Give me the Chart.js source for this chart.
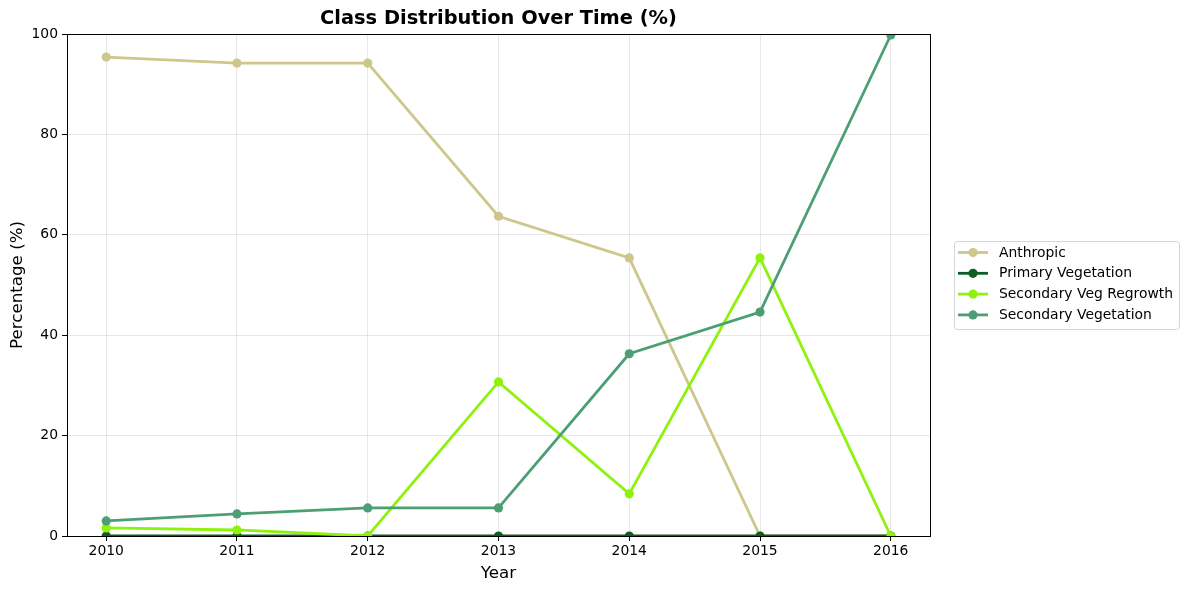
<!DOCTYPE html>
<html>
<head>
<meta charset="utf-8">
<script src="https://cdn.jsdelivr.net/npm/chart.js@4"></script>
<style>
  html, body { margin: 0; padding: 0; background: #fff; }
  #wrap { width: 1188px; height: 590px; }
</style>
</head>
<body>
<div id="wrap"><canvas id="chart" width="1188" height="590"></canvas></div>
<script>
const years = [2010, 2011, 2012, 2013, 2014, 2015, 2016];
const anthropic = [95.4, 94.2, 94.2, 63.7, 55.4, 0, 0];
const primaryVeg = [0, 0, 0, 0, 0, 0, 0];
const regrowth = [1.6, 1.2, 0, 30.7, 8.4, 55.4, 0];
const secondaryVeg = [3.0, 4.4, 5.6, 5.6, 36.3, 44.6, 99.8];
const seriesNames = ['Anthropic', 'Primary Vegetation', 'Secondary Veg Regrowth', 'Secondary Vegetation'];
const seriesColors = ['#cdc78b', '#0d5e20', '#8ef20c', '#4c9f74'];

const FONT = 'DejaVu Sans';
const seriesData = [anthropic, primaryVeg, regrowth, secondaryVeg];

const datasets = seriesData.map((vals, i) => ({
    label: seriesNames[i],
    data: vals.map((v, j) => ({ x: years[j], y: v })),
    borderColor: seriesColors[i],
    backgroundColor: seriesColors[i],
    borderWidth: 2.8,
    pointRadius: 4.6,
    pointHoverRadius: 4.6,
    pointBorderWidth: 0,
    tension: 0,
    clip: { left: 0, top: 0, right: 0, bottom: 1 },
    order: seriesData.length - i
}));

// frame, title and legend drawn like matplotlib
const extras = {
    id: 'extras',
    afterDraw(chart) {
        const { ctx, chartArea: a } = chart;
        ctx.save();
        ctx.strokeStyle = '#000';
        ctx.lineWidth = 1;
        ctx.strokeRect(a.left + 0.5, a.top + 0.5, a.right - a.left, a.bottom - a.top);

        ctx.fillStyle = '#000';
        ctx.font = 'bold 19.4px ' + FONT;
        ctx.textAlign = 'center';
        ctx.textBaseline = 'middle';
        ctx.fillText('Class Distribution Over Time (%)', (a.left + a.right) / 2, 19);

        // legend
        const lx = 954, ly = 241, lw = 225, lh = 88;
        ctx.beginPath();
        ctx.roundRect(lx + 0.5, ly + 0.5, lw, lh, 3);
        ctx.fillStyle = 'rgba(255,255,255,0.8)';
        ctx.fill();
        ctx.strokeStyle = '#d5d5d5';
        ctx.stroke();
        ctx.font = '13.9px ' + FONT;
        ctx.textAlign = 'left';
        seriesNames.forEach((name, i) => {
            const y = 252.5 + i * 20.8;
            ctx.strokeStyle = seriesColors[i];
            ctx.lineWidth = 2.8;
            ctx.beginPath();
            ctx.moveTo(958, y);
            ctx.lineTo(988, y);
            ctx.stroke();
            ctx.fillStyle = seriesColors[i];
            ctx.beginPath();
            ctx.arc(973, y, 4.6, 0, Math.PI * 2);
            ctx.fill();
            ctx.fillStyle = '#000';
            ctx.fillText(name, 999, y + 0.5);
        });
        ctx.restore();
    }
};

new Chart(document.getElementById('chart'), {
    type: 'line',
    data: { datasets },
    plugins: [extras],
    options: {
        responsive: false,
        animation: false,
        layout: { padding: { top: 34, right: 258, left: 0, bottom: 0 } },
        plugins: {
            legend: { display: false },
            title: { display: false },
            tooltip: { enabled: false }
        },
        scales: {
            x: {
                type: 'linear',
                min: 2009.7,
                max: 2016.3,
                afterFit: s => { s.height = 54; },
                afterBuildTicks: s => { s.ticks = years.map(v => ({ value: v })); },
                ticks: {
                    color: '#000',
                    font: { family: FONT, size: 13.9 },
                    padding: 2,
                    maxRotation: 0,
                    callback: v => String(v)
                },
                grid: {
                    color: 'rgba(176,176,176,0.3)',
                    tickColor: '#000',
                    tickLength: 5,
                    drawTicks: true
                },
                border: { display: false },
                title: {
                    display: true,
                    text: 'Year',
                    color: '#000',
                    font: { family: FONT, size: 16.7 },
                    padding: { top: 2, bottom: 6 }
                }
            },
            y: {
                min: 0,
                max: 100,
                afterFit: s => { s.width = 67; },
                ticks: {
                    stepSize: 20,
                    color: '#000',
                    font: { family: FONT, size: 13.9 },
                    padding: 4
                },
                grid: {
                    color: 'rgba(176,176,176,0.3)',
                    tickColor: '#000',
                    tickLength: 5
                },
                border: { display: false },
                title: {
                    display: true,
                    text: 'Percentage (%)',
                    color: '#000',
                    font: { family: FONT, size: 16.7 },
                    padding: { top: 8, bottom: 2 }
                }
            }
        }
    }
});
</script>
</body>
</html>
